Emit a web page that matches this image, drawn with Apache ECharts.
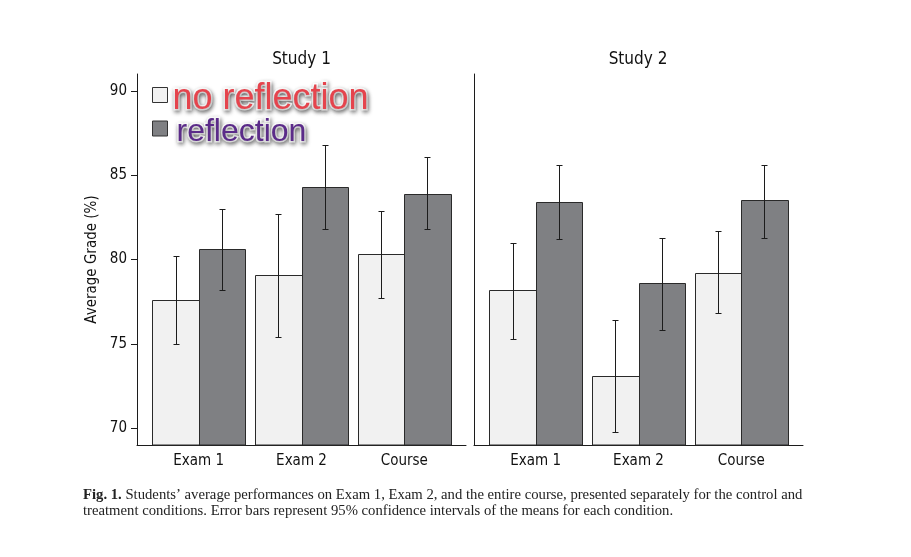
<!DOCTYPE html>
<html>
<head>
<meta charset="utf-8">
<script src="https://cdn.jsdelivr.net/npm/echarts@6/dist/echarts.min.js"></script>
<style>
  html, body { margin: 0; padding: 0; background: #fff; }
  #chart { width: 911px; height: 557px; }
</style>
</head>
<body>
<div id="chart"></div>
<script>
// values
const categories = ['Exam 1', 'Exam 2', 'Course']
const yTicks = [70, 75, 80, 85, 90]

const study1NoRefl = [77.6, 79.1, 80.3]
const study1NoReflLow = [75.0, 75.4, 77.7]
const study1NoReflHigh = [80.2, 82.7, 82.9]
const study1Refl = [80.6, 84.3, 83.9]
const study1ReflLow = [78.2, 81.8, 81.8]
const study1ReflHigh = [83.0, 86.8, 86.1]

const study2NoRefl = [78.2, 73.1, 79.2]
const study2NoReflLow = [75.3, 69.8, 76.8]
const study2NoReflHigh = [81.0, 76.4, 81.7]
const study2Refl = [83.4, 78.6, 83.5]
const study2ReflLow = [81.2, 75.8, 81.3]
const study2ReflHigh = [85.6, 81.3, 85.6]

const lightFill = '#f1f1f1'
const darkFill = '#7f8083'
const ink = '#1c1c1c'
const sansNarrow = '"DejaVu Sans Condensed", "Liberation Sans Narrow", "Roboto", sans-serif'

const chart = echarts.init(document.getElementById('chart'))

function rows(mean, low, high) {
    return mean.map((m, i) => [i + 1, m, low[i], high[i]])
}

// bar + error bar drawn together, offset is in category units
function barRenderer(offset, fill) {
    const half = 0.225
    return function (params, api) {
        const cx = api.value(0) + offset
        const top = api.coord([cx - half, api.value(1)])
        const right = api.coord([cx + half, api.value(1)])
        const bottom = params.coordSys.y + params.coordSys.height
        const lo = api.coord([cx, api.value(2)])
        const hi = api.coord([cx, api.value(3)])
        const x0 = Math.round(top[0]) + 0.5
        const x1 = Math.round(right[0]) + 0.5
        const y0 = Math.round(top[1]) + 0.5
        const ex = Math.round(lo[0]) + 0.5
        const eLo = Math.round(lo[1]) + 0.5
        const eHi = Math.round(hi[1]) + 0.5
        const lineStyle = { stroke: ink, lineWidth: 1 }
        return {
            type: 'group',
            children: [
                {
                    type: 'rect',
                    shape: { x: x0, y: y0, width: x1 - x0, height: bottom - y0 },
                    style: { fill: fill, stroke: '#2a2a2a', lineWidth: 1 }
                },
                { type: 'line', shape: { x1: ex, y1: eLo, x2: ex, y2: eHi }, style: lineStyle },
                { type: 'line', shape: { x1: ex - 3, y1: eLo, x2: ex + 3, y2: eLo }, style: lineStyle },
                { type: 'line', shape: { x1: ex - 3, y1: eHi, x2: ex + 3, y2: eHi }, style: lineStyle }
            ]
        }
    }
}

function xAxisFor(gridIndex) {
    return {
        type: 'value',
        gridIndex: gridIndex,
        min: 0.4,
        max: 3.6,
        axisLine: { show: true, onZero: false, lineStyle: { color: ink, width: 1 } },
        axisTick: { show: false },
        splitLine: { show: false },
        axisLabel: {
            customValues: [1, 2, 3],
            formatter: v => categories[Math.round(v) - 1],
            color: '#111',
            fontFamily: sansNarrow,
            fontSize: 15,
            margin: 9
        }
    }
}

function yAxisFor(gridIndex, showLabels) {
    return {
        type: 'value',
        gridIndex: gridIndex,
        min: 69,
        max: 91,
        name: showLabels ? 'Average Grade (%)' : '',
        nameLocation: 'middle',
        nameGap: 37,
        nameTextStyle: { color: '#111', fontFamily: sansNarrow, fontSize: 15 },
        axisLine: { show: true, lineStyle: { color: ink, width: 1 } },
        axisTick: { show: showLabels, customValues: yTicks, length: 6, lineStyle: { color: ink } },
        splitLine: { show: false },
        axisLabel: {
            show: showLabels,
            customValues: yTicks,
            color: '#111',
            fontFamily: sansNarrow,
            fontSize: 15,
            margin: 10
        }
    }
}

// overlay-style legend labels: white outline with a soft grey shadow
const legendLabel = {
    textBorderColor: '#fff',
    textBorderWidth: 3,
    textShadowColor: 'rgba(0,0,0,0.45)',
    textShadowBlur: 4,
    textShadowOffsetX: 1,
    textShadowOffsetY: 2,
    fontFamily: '"Liberation Sans", Arial, sans-serif',
    lineHeight: 15,
    padding: [8, 0, 0, 0]
}

const option = {
    backgroundColor: '#fff',
    animation: false,
    grid: [
        { left: 137, top: 74, width: 329, height: 371 },
        { left: 474, top: 74, width: 329, height: 371 }
    ],
    xAxis: [xAxisFor(0), xAxisFor(1)],
    yAxis: [yAxisFor(0, true), yAxisFor(1, false)],
    legend: {
        orient: 'vertical',
        left: 152,
        top: 73,
        padding: 0,
        itemWidth: 15,
        itemHeight: 15,
        itemGap: -10,
        selectedMode: false,
        formatter: name => (name === 'no reflection' ? '{nr|' : '{r|') + name + '}',
        textStyle: {
            rich: {
                nr: Object.assign({}, legendLabel, { color: '#e5444d', fontSize: 36 }),
                r: Object.assign({}, legendLabel, { color: '#5b2b89', fontSize: 32, padding: [8, 0, 0, 4] })
            }
        },
        data: [
            {
                name: 'no reflection',
                icon: 'rect',
                itemStyle: { color: lightFill, borderColor: '#333', borderWidth: 1 }
            },
            {
                name: 'reflection',
                icon: 'rect',
                itemStyle: { color: darkFill, borderColor: '#333', borderWidth: 1 }
            }
        ]
    },
    graphic: [
        {
            type: 'text', x: 301.5, y: 60,
            style: { text: 'Study 1', font: '17px ' + sansNarrow, fill: '#111', align: 'center', verticalAlign: 'middle' }
        },
        {
            type: 'text', x: 638, y: 60,
            style: { text: 'Study 2', font: '17px ' + sansNarrow, fill: '#111', align: 'center', verticalAlign: 'middle' }
        },
        {
            type: 'text', left: 83, top: 487,
            style: {
                text: '{b|Fig. 1.} Students\u2019 average performances on Exam 1, Exam 2, and the entire course, presented separately for the control and\ntreatment conditions. Error bars represent 95% confidence intervals of the means for each condition.',
                font: '14.7px "Liberation Serif", "DejaVu Serif", serif',
                fill: '#222',
                lineHeight: 16,
                rich: {
                    b: { fontWeight: 'bold', fontFamily: '"Liberation Serif", serif', fontSize: 14.7, fill: '#222' }
                }
            }
        }
    ],
    series: [
        {
            name: 'no reflection', type: 'custom', xAxisIndex: 0, yAxisIndex: 0,
            itemStyle: { color: lightFill },
            renderItem: barRenderer(-0.225, lightFill),
            data: rows(study1NoRefl, study1NoReflLow, study1NoReflHigh)
        },
        {
            name: 'reflection', type: 'custom', xAxisIndex: 0, yAxisIndex: 0,
            itemStyle: { color: darkFill },
            renderItem: barRenderer(0.225, darkFill),
            data: rows(study1Refl, study1ReflLow, study1ReflHigh)
        },
        {
            name: 'no reflection', type: 'custom', xAxisIndex: 1, yAxisIndex: 1,
            itemStyle: { color: lightFill },
            renderItem: barRenderer(-0.225, lightFill),
            data: rows(study2NoRefl, study2NoReflLow, study2NoReflHigh)
        },
        {
            name: 'reflection', type: 'custom', xAxisIndex: 1, yAxisIndex: 1,
            itemStyle: { color: darkFill },
            renderItem: barRenderer(0.225, darkFill),
            data: rows(study2Refl, study2ReflLow, study2ReflHigh)
        }
    ]
}

chart.setOption(option)
</script>
</body>
</html>
